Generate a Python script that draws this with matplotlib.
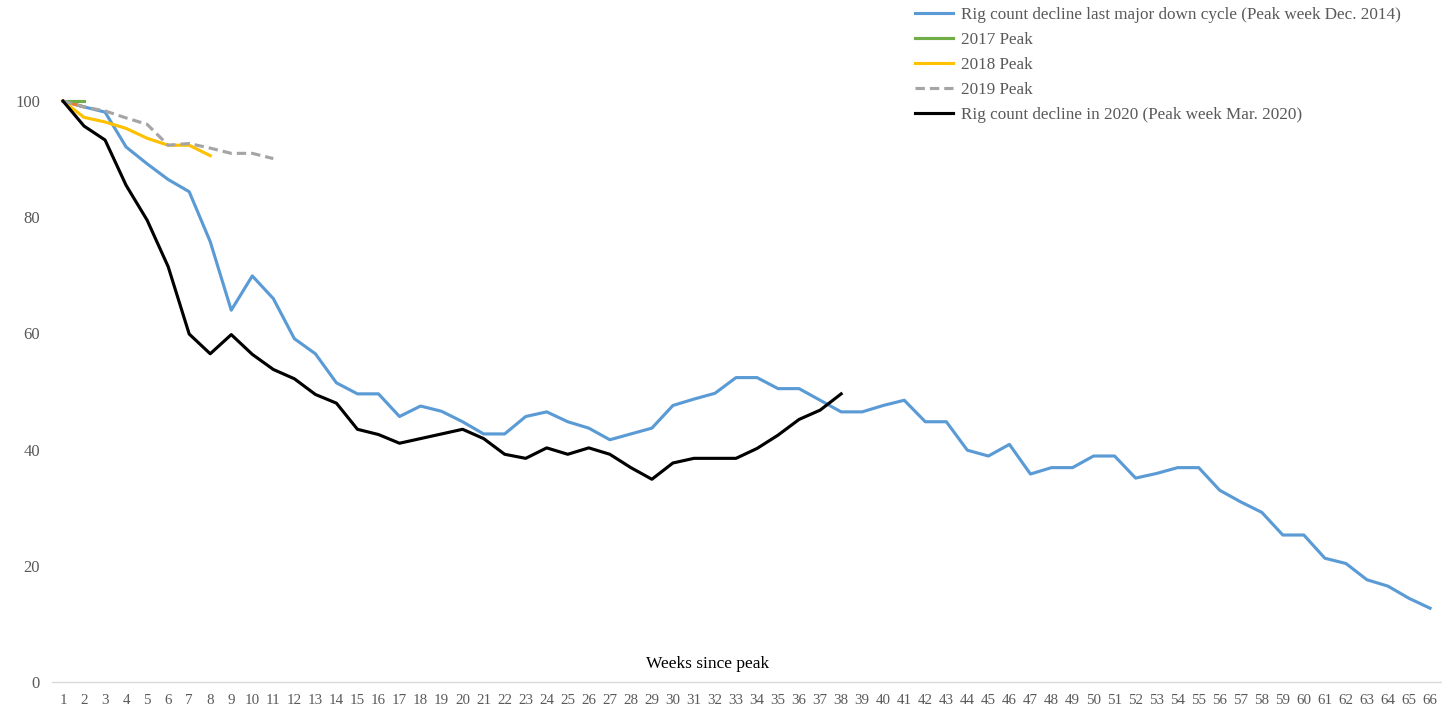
import matplotlib.pyplot as plt
import numpy as np

# Weeks since peak (x categories)
weeks = list(range(1, 67))

# Rig count decline last major down cycle (Peak week Dec. 2014)
cycle_2014 = [100, 99, 98.1, 92.1, 89.2, 86.5, 84.4, 75.8, 64.0, 69.9,
              66.0, 59.1, 56.5, 51.5, 49.6, 49.6, 45.7, 47.5, 46.6, 44.8,
              42.7, 42.7, 45.7, 46.5, 44.8, 43.7, 41.7, 42.7, 43.7, 47.6,
              48.7, 49.7, 52.4, 52.4, 50.5, 50.5, 48.5, 46.5, 46.5, 47.6,
              48.5, 44.8, 44.8, 39.9, 38.9, 40.9, 35.8, 36.9, 36.9, 38.9,
              38.9, 35.1, 35.9, 36.9, 36.9, 33.0, 31.0, 29.2, 25.3, 25.3,
              21.3, 20.4, 17.6, 16.5, 14.4, 12.7]
peak_2016 = [100, 99]
peak_2017 = [100, 100]
peak_2018 = [100, 97.2, 96.4, 95.3, 93.6, 92.4, 92.4, 90.6]
peak_2019 = [100, 99.0, 98.3, 97.1, 96.0, 92.4, 92.7, 91.9, 91.0, 91.0, 90.1]
# Rig count decline in 2020 (Peak week Mar. 2020)
cycle_2020 = [100, 95.7, 93.3, 85.5, 79.5, 71.5, 59.9, 56.5, 59.8, 56.4,
              53.8, 52.2, 49.5, 48.0, 43.5, 42.6, 41.1, 41.9, 42.7, 43.5,
              41.9, 39.2, 38.5, 40.3, 39.2, 40.3, 39.2, 36.9, 34.9, 37.7,
              38.5, 38.5, 38.5, 40.2, 42.5, 45.2, 46.8, 49.6]

plt.rcParams['font.family'] = ['Liberation Serif', 'DejaVu Serif']
text_color = '#595959'

fig = plt.figure(figsize=(14.42, 7.11), dpi=100)
ax = fig.add_axes([0.0364, 0.0408, 0.9626, 0.9592])

ax.plot(weeks[:len(cycle_2014)], cycle_2014, color='#5B9BD5', lw=2.25,
        label='Rig count decline last major down cycle (Peak week Dec. 2014)')
ax.plot(weeks[:len(peak_2016)], peak_2016, color='#ED7D31', lw=2.25)
ax.plot(weeks[:len(peak_2017)], peak_2017, color='#70AD47', lw=2.25, label='2017 Peak')
ax.plot(weeks[:len(peak_2018)], peak_2018, color='#FFC000', lw=2.25, label='2018 Peak')
ax.plot(weeks[:len(peak_2019)], peak_2019, color='#A5A5A5', lw=2.25,
        dashes=(3, 1.6), label='2019 Peak')
ax.plot(weeks[:len(cycle_2020)], cycle_2020, color='#000000', lw=2.25,
        label='Rig count decline in 2020 (Peak week Mar. 2020)')

ax.set_xlim(0.5, 66.5)
ax.set_ylim(0, 117.4)
ax.set_xticks(weeks)
ax.set_xticklabels([str(w) for w in weeks])
ax.set_yticks(np.arange(0, 101, 20))

for side in ['top', 'right', 'left']:
    ax.spines[side].set_visible(False)
ax.spines['bottom'].set_color('#D9D9D9')
ax.spines['bottom'].set_linewidth(1.0)
ax.tick_params(axis='both', length=0, colors=text_color)
ax.tick_params(axis='x', pad=8.5, labelsize=10.8)
ax.tick_params(axis='y', pad=9, labelsize=12)

ax.text(0.4716, 0.027, 'Weeks since peak', transform=ax.transAxes,
        ha='center', va='center', fontsize=12.5, color='#000000')

leg = ax.legend(loc='upper left', bbox_to_anchor=(908 / 1442, 1.0), bbox_transform=fig.transFigure,
                frameon=False, fontsize=12.3, handlelength=2.22, handletextpad=0.47,
                labelspacing=0.53, borderaxespad=0.0)
for t in leg.get_texts():
    t.set_color(text_color)

fig.savefig('out.png', dpi=100)
